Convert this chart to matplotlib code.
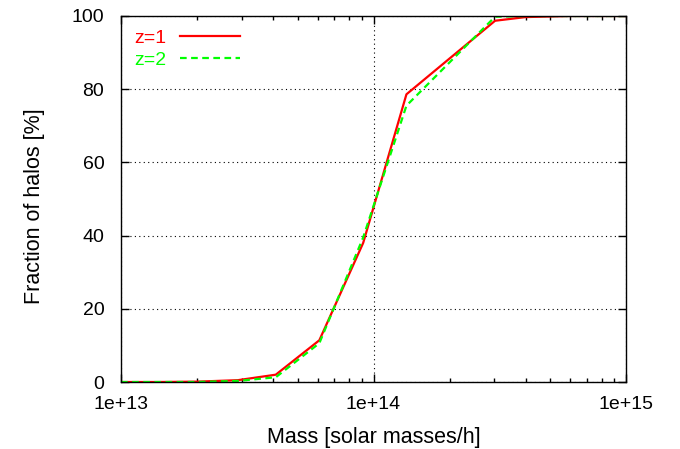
import matplotlib
matplotlib.use("Agg")
import matplotlib.pyplot as plt
from matplotlib.ticker import FixedLocator, LogLocator, NullFormatter

# halo mass bins [solar masses/h]
mass = [1.0e13, 1.4e13, 2.0e13, 2.9e13, 4.1e13, 6.1e13, 9.1e13, 1.35e14,
        3.03e14, 4.0e14, 6.0e14, 1.0e15]
frac_z1 = [0.0, 0.0, 0.1, 0.5, 2.0, 11.4, 38.0, 78.6, 98.7, 99.7, 100.0, 100.0]
frac_z2 = [0.0, 0.0, 0.0, 0.3, 1.3, 10.6, 39.5, 75.5, 99.8, 100.0, 100.0, 100.0]

plt.rcParams['font.family'] = ['Liberation Sans', 'DejaVu Sans']

fig = plt.figure(figsize=(6.8, 4.49), dpi=100)
ax = fig.add_axes([0.178, 0.1492, 0.7426, 0.8152])

ax.plot(mass, frac_z1, color='#ff0000', lw=1.6, label='z=1')
ax.plot(mass, frac_z2, color='#00ff00', lw=1.6, ls=(0, (3, 2)), label='z=2')

ax.set_xscale('log')
ax.set_xlim(1e13, 1e15)
ax.set_ylim(0, 100)
ax.xaxis.set_major_locator(FixedLocator([1e13, 1e14, 1e15]))
ax.set_xticklabels(['1e+13', '1e+14', '1e+15'])
ax.xaxis.set_minor_locator(LogLocator(base=10, subs=range(2, 10)))
ax.xaxis.set_minor_formatter(NullFormatter())
ax.set_yticks([0, 20, 40, 60, 80, 100])

ax.grid(True, which='major', color='black', ls=(0, (1, 3)), lw=0.8)
ax.tick_params(which='both', direction='in', top=True, right=True,
               labelsize=14, color='black')
ax.tick_params(which='major', length=6, width=1)
ax.tick_params(axis='y', which='major', pad=12)
ax.tick_params(axis='x', which='major', pad=10)
ax.tick_params(which='minor', length=3, width=1)
for s in ax.spines.values():
    s.set_linewidth(1)

ax.set_xlabel('Mass [solar masses/h]', fontsize=15.5)
ax.set_ylabel('Fraction of halos [%]', fontsize=15.5)
ax.xaxis.set_label_coords(0.5, -0.124)
ax.yaxis.set_label_coords(-0.15, 0.48)

leg = ax.legend(loc='upper left', bbox_to_anchor=(0.026, 0.964),
                frameon=False, markerfirst=False,
                labelcolor='linecolor', fontsize=14, handlelength=3.1,
                handletextpad=0.7, borderaxespad=0, borderpad=0,
                labelspacing=0.25)

fig.savefig('out.png', dpi=100)
